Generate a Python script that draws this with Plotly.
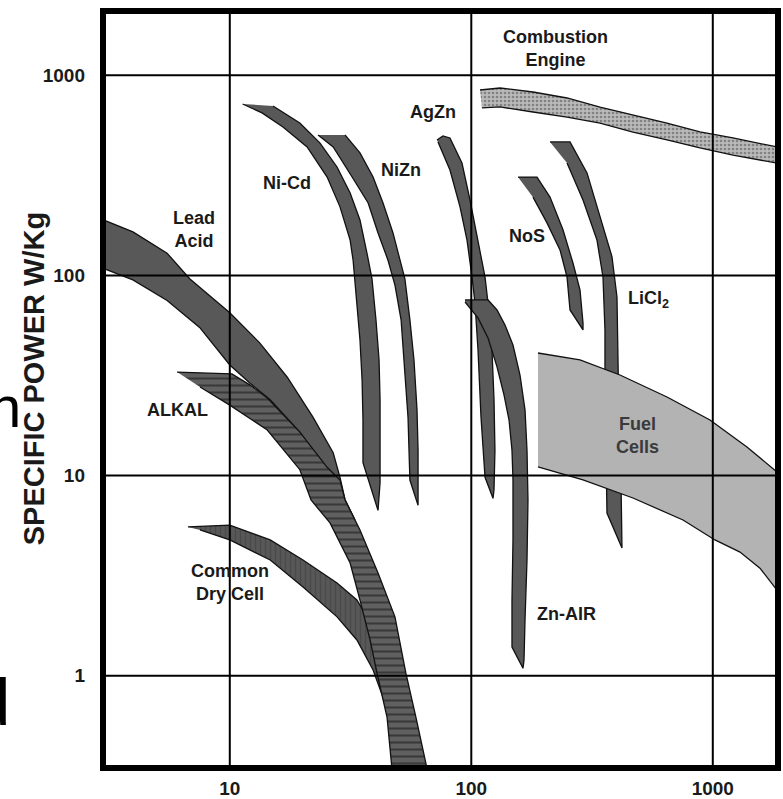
import numpy as np
import plotly.graph_objects as go

# ---------------- data ----------------
# x = specific energy (Wh/kg), y = specific power (W/kg); each list traces a band outline
COMB_E = [108.7, 131.5, 180.1, 249.1, 341.2, 467.3, 646.3, 885.1, 1212, 1844, 2189,
          2189, 1844, 1212, 885.1, 646.3, 467.3, 341.2, 249.1, 180.1, 131.5, 110.7]
COMB_P = [843.6, 863.3, 824.4, 769.4, 693.6, 632.6, 577, 520.4, 486, 438, 423,
          352, 364, 399, 433, 475, 520, 577, 618, 655, 694, 686]

LEAD_E = [2.85, 3.97, 5.5, 6.84, 10.0, 13.3, 17.3, 22.1, 26.8, 28.6, 30.0, 33.0,
          26.0, 19.5, 14.7, 12.1, 10.0, 7.5, 5.5, 3.97, 2.85]
LEAD_P = [194, 165, 129, 96, 65, 46, 31, 19.6, 13.0, 9.8, 7.6, 6.0,
          10.1, 16.5, 23.9, 29, 35.7, 55, 75, 95, 111]

ALKAL_E = [6.05, 10.2, 12.1, 14.3, 19.5, 25.3, 28.6, 30.0, 34.6, 41.1, 48.3, 53.6, 59.0, 65.5, 67.5,
           46.9, 46.9, 44.8, 40.7, 38.1, 34.6, 31.5, 26.0, 21.7, 19.5, 14.3, 10.0, 7.53]
ALKAL_P = [32.9, 32.2, 28.4, 24.4, 16.5, 11.0, 9.5, 7.55, 5.35, 3.26, 1.97, 1.03, 0.62, 0.346, 0.27,
           0.27, 0.346, 0.62, 1.03, 1.51, 2.39, 3.66, 5.80, 7.55, 10.7, 16.9, 22.5, 27.7]

DRY_E = [6.71, 10.0, 14.7, 20.1, 27.8, 33.6, 39.9, 46.1, 50.7,
         47.4, 47.4, 46.1, 43.1, 39.2, 33.6, 27.8, 20.1, 14.7, 10.0, 7.53]
DRY_P = [5.54, 5.66, 4.77, 3.79, 2.91, 2.39, 1.69, 0.95, 0.27,
         0.27, 0.35, 0.58, 0.78, 1.07, 1.51, 1.97, 2.78, 3.79, 4.77, 5.35]

NICD_E = [15.1, 19.5, 23.6, 27.8, 31.5, 34.6, 37.0, 38.8, 40.3, 41.5, 41.9, 41.9, 41.9, 41.1,
          35.6, 35.6, 35.3, 34.6, 33.6, 32.4, 31.5, 28.6, 25.3, 20.9, 16.6, 13.6, 11.3]
NICD_P = [702, 577, 459, 348, 258, 189, 129, 96, 60, 37.8, 23.9, 15.1, 9.2, 6.7,
          11.6, 19.0, 30.0, 47.6, 75, 119, 150, 220, 310, 438, 551, 648, 718]

NIZN_E = [30.0, 34.6, 39.2, 43.1, 47.4, 50.7, 53.1, 55.7, 57.9, 59.6, 60.2, 60.2,
          55.7, 54.7, 53.1, 51.2, 48.3, 45.2, 41.1, 37.4, 32.1, 26.8, 23.2]
NIZN_P = [503, 409, 310, 230, 163, 119, 96, 60, 37.8, 21.3, 13.4, 7.1,
          9.5, 19.6, 33.7, 60, 89.5, 119, 163, 230, 310, 438, 503]

AGZN_E = [72.1, 76.3, 81.6, 91.5, 98.8, 106.6, 114.0, 117.3, 121.8, 124.2, 125.3, 124.2, 123.0,
          114.0, 109.7, 106.6, 103.6, 100.7, 96.0, 89.8, 81.6, 72.8]
AGZN_P = [475, 497, 486, 364, 238, 150, 98, 72.8, 42.4, 23.9, 13.4, 8.5, 7.7,
          9.8, 19.6, 42.4, 72.8, 98.2, 150, 220, 336, 464]

ZNAIR_E = [94.2, 117.3, 127.8, 137.9, 148.8, 159.1, 166.9, 170.1, 171.7, 170.1, 166.9, 165.3, 163.7,
           147.4, 147.4, 148.8, 148.8, 147.4, 143.3, 136.6, 127.8, 117.3, 106.6, 94.2]
ZNAIR_P = [75.4, 75.4, 67.2, 56.5, 44.9, 31.8, 21.3, 13.4, 7.55, 3.79, 1.90, 1.20, 1.09,
           1.39, 2.39, 4.77, 9.51, 13.4, 18.95, 25.3, 34.9, 48.7, 61.3, 73.6]

NOS_E = [156.1, 187.1, 211.8, 239.7, 263.8, 281.9, 290.1, 290.1, 256.3, 249.1, 233.0, 205.8, 180.1]
NOS_P = [310, 310, 246, 169, 115, 84.6, 57.8, 53.4, 67.2, 98.2, 134, 183, 246]

LICL_E = [211.8, 256.3, 301.4, 341.2, 382.4, 401.1, 405.0, 408.8, 416.7, 420.7,
          364.6, 361.2, 357.7, 357.7, 351.0, 331.5, 290.1, 249.1]
LICL_P = [464, 464, 325, 196, 124, 78, 42.4, 19.0, 9.5, 4.35,
          6.5, 13.4, 30.0, 53.4, 98.2, 150, 238, 364]

FUEL_E = [188.9, 281.9, 412.7, 646.3, 973.6, 1385, 1844, 2189,
          2189, 1844, 1568, 1296, 1021, 752.7, 467.3, 290.1, 188.9]
FUEL_P = [40.96, 37.8, 31.8, 24.7, 18.95, 13.9, 10.42, 8.87,
          2.13, 2.68, 3.45, 4.15, 4.77, 6.00, 7.73, 9.51, 11.04]

# Region labels (text, energy, power)
LABEL_TEXT = ["Combustion<br>Engine", "Lead<br>Acid", "Ni-Cd", "NiZn", "AgZn", "NoS",
              "LiCl<sub>2</sub>", "Fuel<br>Cells", "ALKAL", "Common<br>Dry Cell", "Zn-AIR"]
LABEL_E = [224.2, 7.11, 17.26, 51.2, 69.4, 170.1, 544, 485.6, 6.10, 10.0, 249]
LABEL_P = [1367, 170.5, 289.4, 336, 655, 157.3, 75.4, 15.77, 21.3, 2.91, 2.035]

X_TICKS = [10, 100, 1000]
Y_TICKS = [1, 10, 100, 1000]
Y_TITLE = "SPECIFIC POWER W/Kg"

# ---------------- styles ----------------
DARK = "#585858"
FONT = "Liberation Sans, Arial, sans-serif"

series = [
    (COMB_E, COMB_P, dict(fillcolor="#b8b8b8",
                          fillpattern=dict(shape=".", bgcolor="#bababa", fgcolor="#4a4a4a",
                                           size=4, solidity=0.35))),
    (LEAD_E, LEAD_P, dict(fillcolor=DARK)),
    (DRY_E, DRY_P, dict(fillcolor=DARK,
                        fillpattern=dict(shape="|", bgcolor=DARK, fgcolor="#3c3c3c",
                                         size=5, solidity=0.3))),
    (ALKAL_E, ALKAL_P, dict(fillcolor=DARK,
                            fillpattern=dict(shape="-", bgcolor="#606060", fgcolor="#111111",
                                             size=7, solidity=0.3))),
    (NICD_E, NICD_P, dict(fillcolor=DARK)),
    (NIZN_E, NIZN_P, dict(fillcolor=DARK)),
    (AGZN_E, AGZN_P, dict(fillcolor=DARK)),
    (ZNAIR_E, ZNAIR_P, dict(fillcolor=DARK)),
    (NOS_E, NOS_P, dict(fillcolor=DARK)),
    (LICL_E, LICL_P, dict(fillcolor=DARK)),
    (FUEL_E, FUEL_P, dict(fillcolor="#b3b3b3")),
]

fig = go.Figure()
for e, p, style in series:
    fig.add_trace(go.Scatter(x=e, y=p, mode="lines", fill="toself",
                             line=dict(color="#111111", width=1.3),
                             hoverinfo="skip", showlegend=False, **style))

# grid lines drawn above the bands, as in the original (shapes take data values)
for v in X_TICKS:
    fig.add_shape(type="line", xref="x", yref="paper", x0=v, x1=v,
                  y0=0, y1=1, line=dict(color="black", width=2), layer="above")
for v in Y_TICKS:
    fig.add_shape(type="line", xref="paper", yref="y", x0=0, x1=1,
                  y0=v, y1=v, line=dict(color="black", width=2), layer="above")

# thick frame
fig.add_shape(type="rect", xref="paper", yref="paper", x0=0, x1=1, y0=0, y1=1,
              line=dict(color="black", width=6), layer="above")

for t, e, p in zip(LABEL_TEXT, LABEL_E, LABEL_P):
    col = "#3a3a3a" if t.startswith("Fuel") else "#1a1a1a"
    fig.add_annotation(x=np.log10(e), y=np.log10(p), xref="x", yref="y", text=t,
                       showarrow=False, xanchor="center", yanchor="middle",
                       font=dict(family=FONT, size=18, color=col, weight="bold"))

# y-axis title
fig.add_annotation(x=-0.102, y=0.515, xref="paper", yref="paper", text=Y_TITLE,
                   textangle=-90, showarrow=False, xanchor="center", yanchor="middle",
                   font=dict(family=FONT, size=29, color="#1a1a1a", weight="bold"))

# fragments of neighbouring text at the left edge of the picture
fig.add_annotation(x=-0.172, y=0.478, xref="paper", yref="paper", text="n",
                   showarrow=False, xanchor="left", yanchor="middle",
                   font=dict(family=FONT, size=58, color="black"))
fig.add_annotation(x=-0.195, y=0.088, xref="paper", yref="paper", text="d",
                   showarrow=False, xanchor="left", yanchor="middle",
                   font=dict(family=FONT, size=67, color="black"))

fig.update_xaxes(type="log", range=[0.475, 3.270], tickvals=X_TICKS,
                 ticktext=[str(v) for v in X_TICKS], showgrid=False, zeroline=False,
                 showline=False, ticks="", ticklabelstandoff=7, automargin=False,
                 tickfont=dict(family=FONT, size=19, color="#1a1a1a", weight="bold"))
fig.update_yaxes(type="log", range=[-0.4606, 3.3207], tickvals=Y_TICKS,
                 ticktext=[str(v) for v in Y_TICKS], showgrid=False, zeroline=False,
                 showline=False, ticks="", ticklabelstandoff=17, automargin=False,
                 tickfont=dict(family=FONT, size=19, color="#1a1a1a", weight="bold"))

fig.update_layout(width=783, height=799, margin=dict(l=103, r=5, t=11, b=31, autoexpand=False),
                  paper_bgcolor="white", plot_bgcolor="white", showlegend=False)

fig.write_html("out.html", config={"displayModeBar": False},
               post_script="document.body.style.margin='0px';document.body.style.overflow='hidden';")
